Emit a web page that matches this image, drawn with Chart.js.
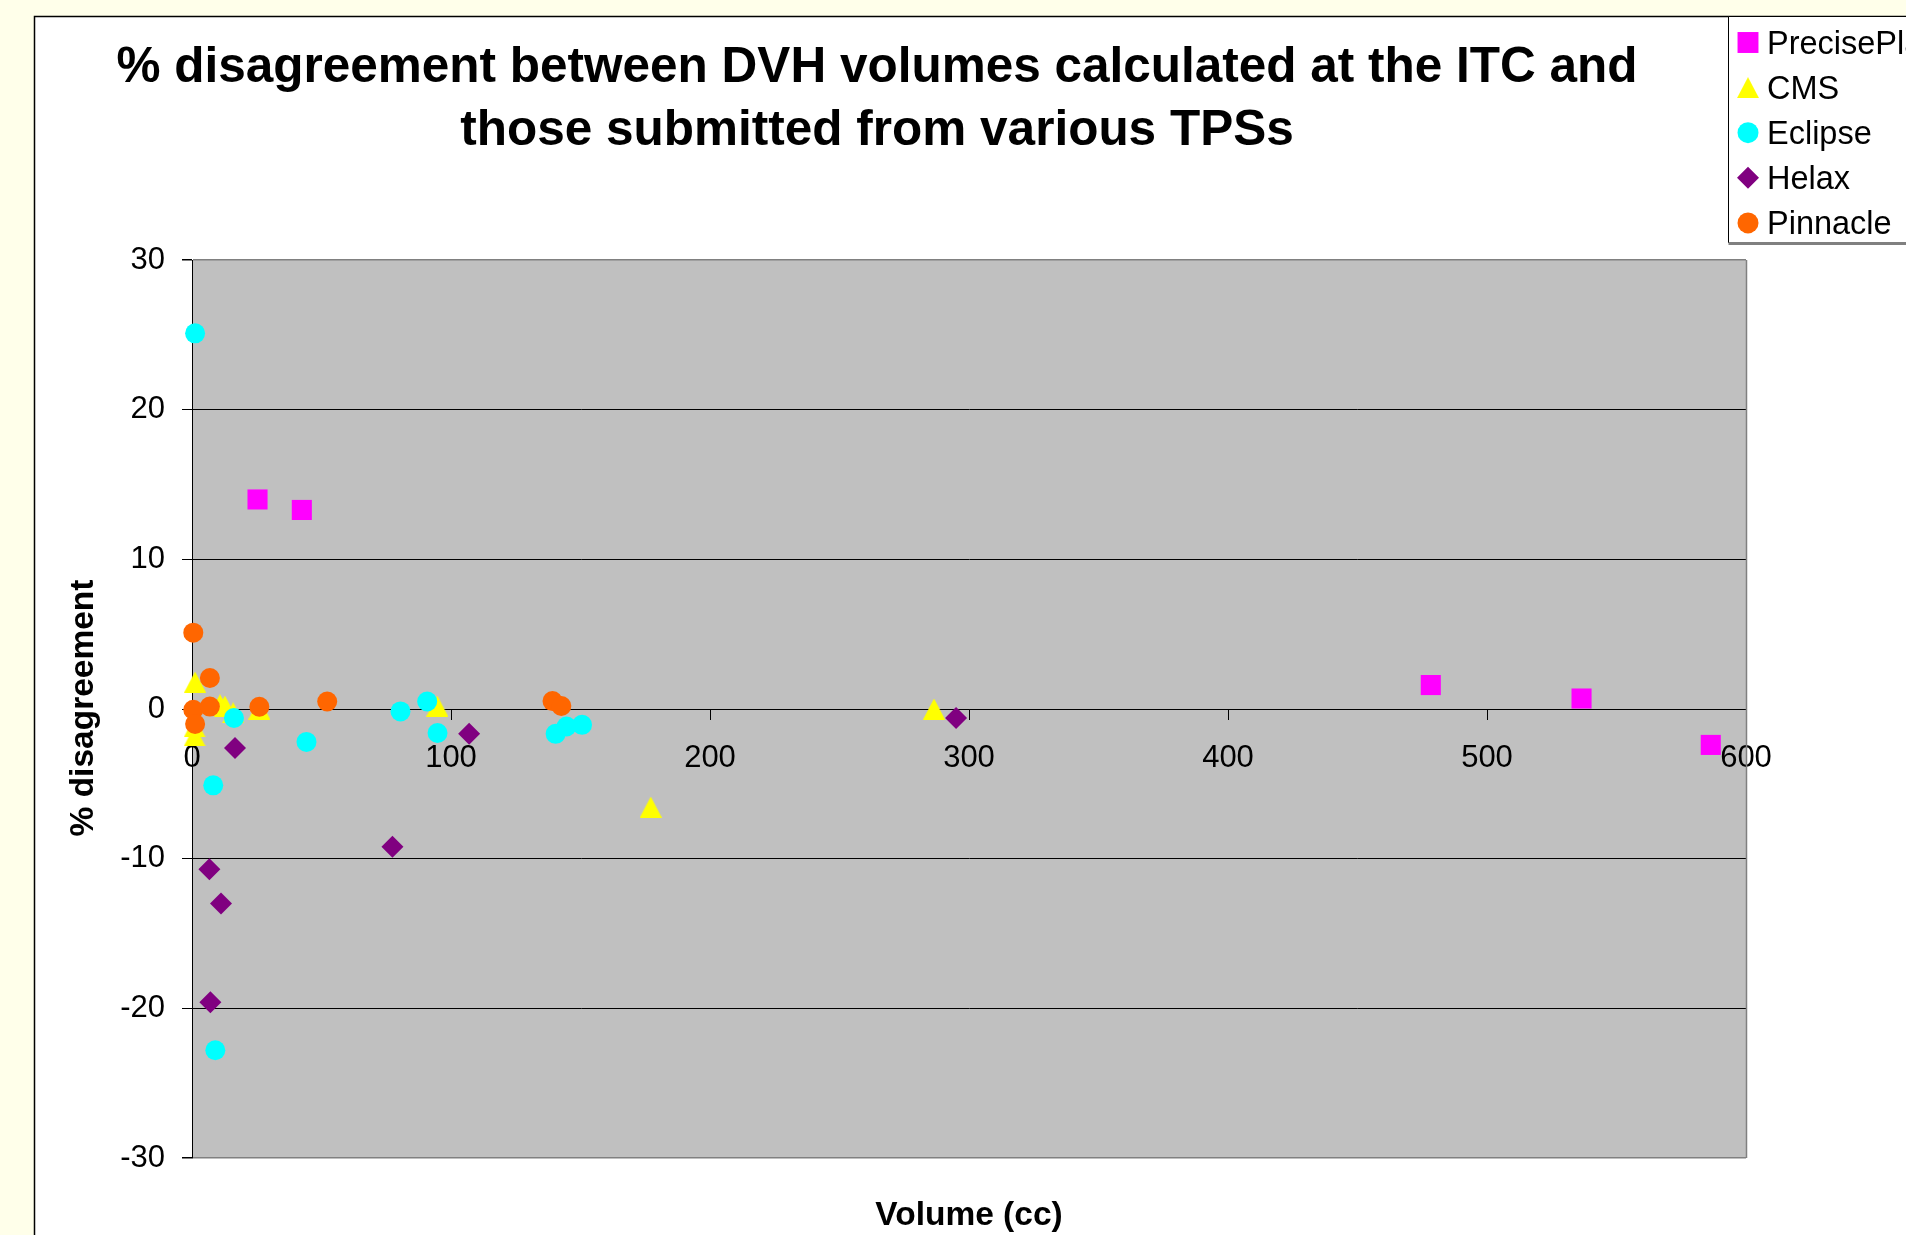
<!DOCTYPE html>
<html>
<head>
<meta charset="utf-8">
<title>% disagreement between DVH volumes</title>
<script src="https://cdn.jsdelivr.net/npm/chart.js@4.4.1/dist/chart.umd.min.js"></script>
<style>
  html, body { margin: 0; padding: 0; background: #FFFFEA; overflow: hidden; }
  #wrap { position: relative; width: 1906px; height: 1235px; }
  canvas { display: block; }
</style>
</head>
<body>
<div id="wrap"><canvas id="chart" width="1906" height="1235"></canvas></div>
<script>
// Chart text
const titleLines = ['% disagreement between DVH volumes calculated at the ITC and',
                    'those submitted from various TPSs'];
const xAxisTitle = 'Volume (cc)';
const yAxisTitle = '% disagreement';

// Axis ticks
const volumeTicks = [0, 100, 200, 300, 400, 500, 600];
const disagreementTicks = [-30, -20, -10, 0, 10, 20, 30];

// Series: volume (cc) and % disagreement per planning system
const seriesNames = ['PrecisePlan', 'CMS', 'Eclipse', 'Helax', 'Pinnacle'];

const precisePlanVolume = [25.3, 42.4, 478.3, 536.5, 586.4];
const precisePlanDiff   = [14.0, 13.3, 1.6, 0.7, -2.4];

const cmsVolume = [1.2, 10.8, 12.7, 15.9, 26.0, 1.0, 1.0, 94.7, 177.1, 286.5];
const cmsDiff   = [1.8, 0.3, 0.2, -0.25, 0.0, -1.2, -1.8, 0.2, -6.55, 0.0];

const eclipseVolume = [1.2, 8.2, 9.0, 16.2, 44.2, 80.5, 90.8, 94.8, 140.4, 144.6, 150.6];
const eclipseDiff   = [25.1, -5.1, -22.8, -0.6, -2.2, -0.16, 0.5, -1.6, -1.66, -1.17, -1.06];

const helaxVolume = [6.7, 7.1, 11.2, 16.6, 77.4, 107.0, 295.0];
const helaxDiff   = [-10.7, -19.6, -13.0, -2.6, -9.2, -1.65, -0.6];

const pinnacleVolume = [0.5, 6.9, 0.5, 6.9, 1.2, 26.0, 52.2, 139.2, 142.6];
const pinnacleDiff   = [5.1, 2.07, -0.05, 0.16, -1.0, 0.15, 0.5, 0.53, 0.2];

const FONT = '"Liberation Sans", Arial, Helvetica, sans-serif';
Chart.defaults.font.family = FONT;
Chart.defaults.color = '#000';

// Isosceles triangle marker (slightly wider than an equilateral one)
function triangleMarker(color, w, h) {
  const c = document.createElement('canvas');
  c.width = w; c.height = h;
  const g = c.getContext('2d');
  g.fillStyle = color;
  g.beginPath();
  g.moveTo(w / 2, 0);
  g.lineTo(w, h);
  g.lineTo(0, h);
  g.closePath();
  g.fill();
  return c;
}

function pairs(xs, ys) {
  return xs.map((x, i) => ({ x: x, y: ys[i] }));
}

function series(name, xs, ys, color, style, radius, order) {
  return {
    label: name,
    data: pairs(xs, ys),
    backgroundColor: color,
    borderColor: color,
    pointBackgroundColor: color,
    pointBorderWidth: 0,
    borderWidth: 0,
    pointStyle: style,
    pointRadius: radius,
    pointHoverRadius: radius,
    clip: false,
    order: order
  };
}

const datasets = [
  series(seriesNames[0], precisePlanVolume, precisePlanDiff, '#FF00FF', 'rect', 14.2, 5),
  series(seriesNames[1], cmsVolume, cmsDiff, '#FFFF00', triangleMarker('#FFFF00', 22, 21), 11, 4),
  series(seriesNames[2], eclipseVolume, eclipseDiff, '#00FFFF', 'circle', 10, 3),
  series(seriesNames[3], helaxVolume, helaxDiff, '#800080', 'rectRot', 11, 2),
  series(seriesNames[4], pinnacleVolume, pinnacleDiff, '#FF6600', 'circle', 10, 1)
];

// Page frame, plot background, titles and legend box
const decorations = {
  id: 'decorations',
  beforeDraw(chart) {
    const { ctx, chartArea: a, width, height } = chart;
    ctx.save();
    ctx.fillStyle = '#FFFFEA';
    ctx.fillRect(0, 0, width, height);
    ctx.fillStyle = '#FFFFFF';
    ctx.fillRect(34, 16, width - 34, height - 16);
    ctx.strokeStyle = '#000';
    ctx.lineWidth = 1.5;
    ctx.beginPath();
    ctx.moveTo(34.5, height);
    ctx.lineTo(34.5, 16.5);
    ctx.lineTo(width, 16.5);
    ctx.stroke();
    ctx.fillStyle = '#C0C0C0';
    ctx.fillRect(a.left, a.top, a.right - a.left, a.bottom - a.top);
    ctx.restore();
  },
  beforeDatasetsDraw(chart) {
    const { ctx, chartArea: a } = chart;
    ctx.save();
    ctx.strokeStyle = '#808080';
    ctx.lineWidth = 1.5;
    ctx.beginPath();
    ctx.moveTo(Math.round(a.right) + 0.5, a.top);
    ctx.lineTo(Math.round(a.right) + 0.5, a.bottom);
    ctx.stroke();
    ctx.restore();
  },
  afterDraw(chart) {
    const { ctx, chartArea: a } = chart;
    ctx.save();
    // main title
    ctx.fillStyle = '#000';
    ctx.textAlign = 'center';
    ctx.textBaseline = 'alphabetic';
    ctx.font = 'bold 49.5px ' + FONT;
    ctx.fillText(titleLines[0], 877, 82);
    ctx.fillText(titleLines[1], 877, 145);
    // axis titles
    ctx.font = 'bold 33.5px ' + FONT;
    ctx.fillText(xAxisTitle, (a.left + a.right) / 2, 1225);
    ctx.save();
    ctx.translate(93, 708);
    ctx.rotate(-Math.PI / 2);
    ctx.fillText(yAxisTitle, 0, 0);
    ctx.restore();

    // legend box
    const lx = 1728.5, ly = 16.5, lb = 243;
    ctx.fillStyle = '#FFFFFF';
    ctx.fillRect(lx, ly, chart.width - lx, lb - ly);
    ctx.strokeStyle = '#000';
    ctx.lineWidth = 1;
    ctx.beginPath();
    ctx.moveTo(lx, lb);
    ctx.lineTo(lx, ly);
    ctx.lineTo(chart.width, ly);
    ctx.stroke();
    ctx.strokeStyle = '#808080';
    ctx.lineWidth = 3;
    ctx.beginPath();
    ctx.moveTo(lx, lb + 0.5);
    ctx.lineTo(chart.width, lb + 0.5);
    ctx.stroke();

    ctx.font = '32.5px ' + FONT;
    ctx.textAlign = 'left';
    ctx.textBaseline = 'alphabetic';
    chart.data.datasets.forEach((ds, i) => {
      const cy = 42.5 + i * 45.1;
      ctx.fillStyle = ds.backgroundColor;
      Chart.helpers.drawPoint(ctx, {
        pointStyle: ds.pointStyle,
        radius: ds.pointStyle === 'rect' ? 14.8 : (ds.pointStyle === 'circle' ? 10.5 : 11),
        rotation: 0,
        borderWidth: 0
      }, 1748, cy);
      ctx.fillStyle = '#000';
      ctx.fillText(ds.label, 1767, cy + 11.5);
    });
    ctx.restore();
  }
};

new Chart(document.getElementById('chart'), {
  type: 'scatter',
  data: { datasets: datasets },
  options: {
    responsive: false,
    animation: false,
    devicePixelRatio: 1,
    layout: { padding: { left: 82, right: 160, top: 260, bottom: 77 } },
    plugins: {
      legend: { display: false },
      title: { display: false },
      tooltip: { enabled: false }
    },
    scales: {
      x: {
        type: 'linear',
        position: { y: 0 },
        min: volumeTicks[0],
        max: volumeTicks[volumeTicks.length - 1],
        afterBuildTicks(scale) { scale.ticks = volumeTicks.map(v => ({ value: v })); },
        grid: { drawOnChartArea: false, drawTicks: true, tickLength: 10, tickColor: '#000', lineWidth: 1 },
        border: { display: true, color: '#000', width: 1 },
        ticks: { font: { size: 31 }, color: '#000', padding: 21, maxRotation: 0, autoSkip: false }
      },
      y: {
        type: 'linear',
        position: 'left',
        min: disagreementTicks[0],
        max: disagreementTicks[disagreementTicks.length - 1],
        afterBuildTicks(scale) { scale.ticks = disagreementTicks.map(v => ({ value: v })); },
        afterFit(scale) { scale.width = 110; },
        grid: {
          color: c => (c.tick && Math.abs(c.tick.value) === 30 ? '#808080' : '#000'),
          lineWidth: c => (c.tick && Math.abs(c.tick.value) === 30 ? 1.5 : 1),
          tickColor: '#000',
          tickLength: 10,
          drawTicks: true
        },
        border: { display: true, color: '#000', width: 1 },
        ticks: { font: { size: 31 }, color: '#000', padding: 17, autoSkip: false }
      }
    }
  },
  plugins: [decorations]
});
</script>
</body>
</html>
